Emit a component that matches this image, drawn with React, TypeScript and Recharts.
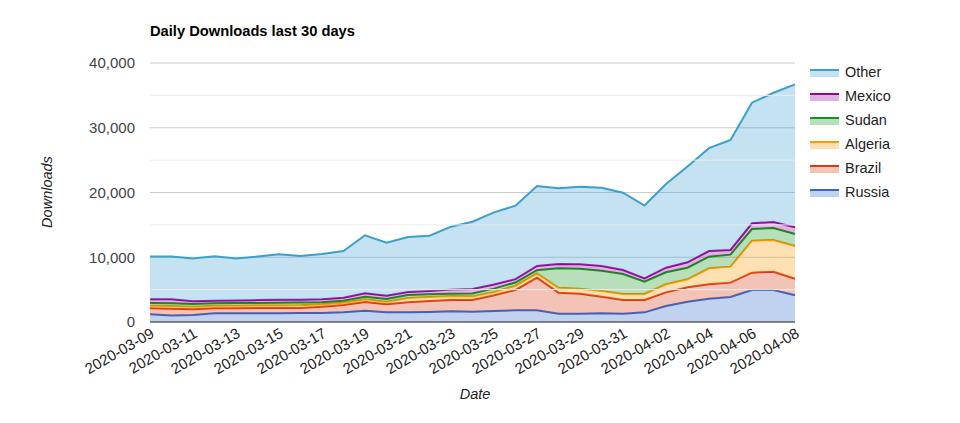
import React from "react";
import { AreaChart, Area, XAxis, YAxis, CartesianGrid, ReferenceLine } from "recharts";

const dates = [
  "2020-03-09", "2020-03-10", "2020-03-11", "2020-03-12", "2020-03-13", "2020-03-14",
  "2020-03-15", "2020-03-16", "2020-03-17", "2020-03-18", "2020-03-19", "2020-03-20",
  "2020-03-21", "2020-03-22", "2020-03-23", "2020-03-24", "2020-03-25", "2020-03-26",
  "2020-03-27", "2020-03-28", "2020-03-29", "2020-03-30", "2020-03-31", "2020-04-01",
  "2020-04-02", "2020-04-03", "2020-04-04", "2020-04-05", "2020-04-06", "2020-04-07",
  "2020-04-08",
];

const russia = [1190, 1000, 1080, 1340, 1340, 1340, 1370, 1390, 1390, 1490, 1750, 1490, 1490, 1540, 1650, 1600, 1700, 1800, 1800, 1290, 1290, 1340, 1290, 1490, 2470, 3140, 3600, 3860, 4940, 4940, 4120];
const brazil = [920, 1060, 880, 770, 790, 810, 790, 790, 980, 1130, 1340, 1240, 1550, 1700, 1750, 1800, 2420, 3150, 5050, 3240, 3090, 2570, 2110, 1910, 2110, 2220, 2220, 2220, 2680, 2830, 2570];
const algeria = [410, 420, 410, 390, 390, 390, 400, 400, 360, 360, 410, 410, 660, 620, 600, 560, 510, 650, 650, 750, 770, 880, 920, 920, 1240, 1230, 2470, 2470, 4940, 4890, 5050];
const sudan = [410, 420, 410, 400, 400, 410, 420, 420, 330, 320, 410, 410, 470, 410, 380, 440, 520, 500, 500, 3020, 3090, 3140, 3090, 1910, 1860, 1800, 1800, 1850, 1800, 1860, 1850];
const mexico = [570, 600, 420, 400, 410, 430, 440, 450, 450, 460, 520, 510, 460, 520, 620, 700, 650, 520, 650, 660, 660, 720, 620, 510, 710, 830, 870, 720, 880, 920, 1030];
const other = [6600, 6600, 6600, 6850, 6470, 6720, 7030, 6750, 7000, 7200, 8960, 8190, 8500, 8540, 9720, 10390, 11140, 11350, 12350, 11690, 12000, 12090, 11940, 11240, 12910, 14780, 15890, 16980, 18630, 19970, 22080];

const yTicks = [0, 10000, 20000, 30000, 40000];
const minorTicks = [5000, 15000, 25000, 35000];

// bottom of the stack first
const series = [
  { key: "Russia", values: russia, color: "#3366cc" },
  { key: "Brazil", values: brazil, color: "#dc3912" },
  { key: "Algeria", values: algeria, color: "#ff9900" },
  { key: "Sudan", values: sudan, color: "#109618" },
  { key: "Mexico", values: mexico, color: "#990099" },
  { key: "Other", values: other, color: "#3b9fcf" },
];

const data = dates.map((date, i) => {
  const row: any = { date };
  series.forEach((s) => (row[s.key] = s.values[i]));
  return row;
});

const font = "Arial, 'Liberation Sans', sans-serif";

export default function App() {
  return (
    <div style={{ position: "absolute", left: 0, top: 0, width: 960, height: 423, fontFamily: font, background: "#fff" }}>
      <div style={{ position: "absolute", left: 150, top: 23, fontSize: 14.7, fontWeight: "bold", color: "#000" }}>
        Daily Downloads last 30 days
      </div>
      <AreaChart width={960} height={423} data={data} margin={{ top: 63, right: 165, bottom: 0, left: 90 }}>
        <CartesianGrid vertical={false} stroke="#cccccc" />
        {minorTicks.map((t) => (
          <ReferenceLine key={t} y={t} stroke="#ebebeb" />
        ))}
        <XAxis
          dataKey="date"
          interval={1}
          height={101}
          tickLine={false}
          tickSize={0}
          tickMargin={5}
          angle={-30}
          textAnchor="end"
          axisLine={{ stroke: "#333" }}
          tick={{ fontSize: 15, fill: "#222" }}
        />
        <YAxis
          width={60}
          domain={[0, 40000]}
          ticks={yTicks}
          axisLine={false}
          tickLine={false}
          tickSize={0}
          tickMargin={15}
          tick={{ fontSize: 15, fill: "#444" }}
          tickFormatter={(v: number) => v.toLocaleString("en-US")}
        />
        {series.map((s) => (
          <Area
            key={s.key}
            type="linear"
            dataKey={s.key}
            stackId="a"
            stroke={s.color}
            strokeWidth={2}
            fill={s.color}
            fillOpacity={0.3}
            dot={false}
            activeDot={false}
            isAnimationActive={false}
          />
        ))}
      </AreaChart>
      <div
        style={{
          position: "absolute",
          left: 47,
          top: 192,
          transform: "translate(-50%, -50%) rotate(-90deg)",
          fontSize: 14.5,
          fontStyle: "italic",
          color: "#222",
          whiteSpace: "nowrap",
        }}
      >
        Downloads
      </div>
      <div
        style={{
          position: "absolute",
          left: 475,
          top: 394,
          transform: "translate(-50%, -50%)",
          fontSize: 14.5,
          fontStyle: "italic",
          color: "#222",
        }}
      >
        Date
      </div>
      <div style={{ position: "absolute", left: 810, top: 60 }}>
        {[...series].reverse().map((s) => (
          <div key={s.key} style={{ display: "flex", alignItems: "center", height: 24 }}>
            <div style={{ width: 29, height: 8, marginTop: 2 }}>
              <div style={{ height: 2, background: s.color }} />
              <div style={{ height: 6, background: s.color, opacity: 0.3 }} />
            </div>
            <span style={{ marginLeft: 6, fontSize: 14.5, color: "#222" }}>{s.key}</span>
          </div>
        ))}
      </div>
    </div>
  );
}
